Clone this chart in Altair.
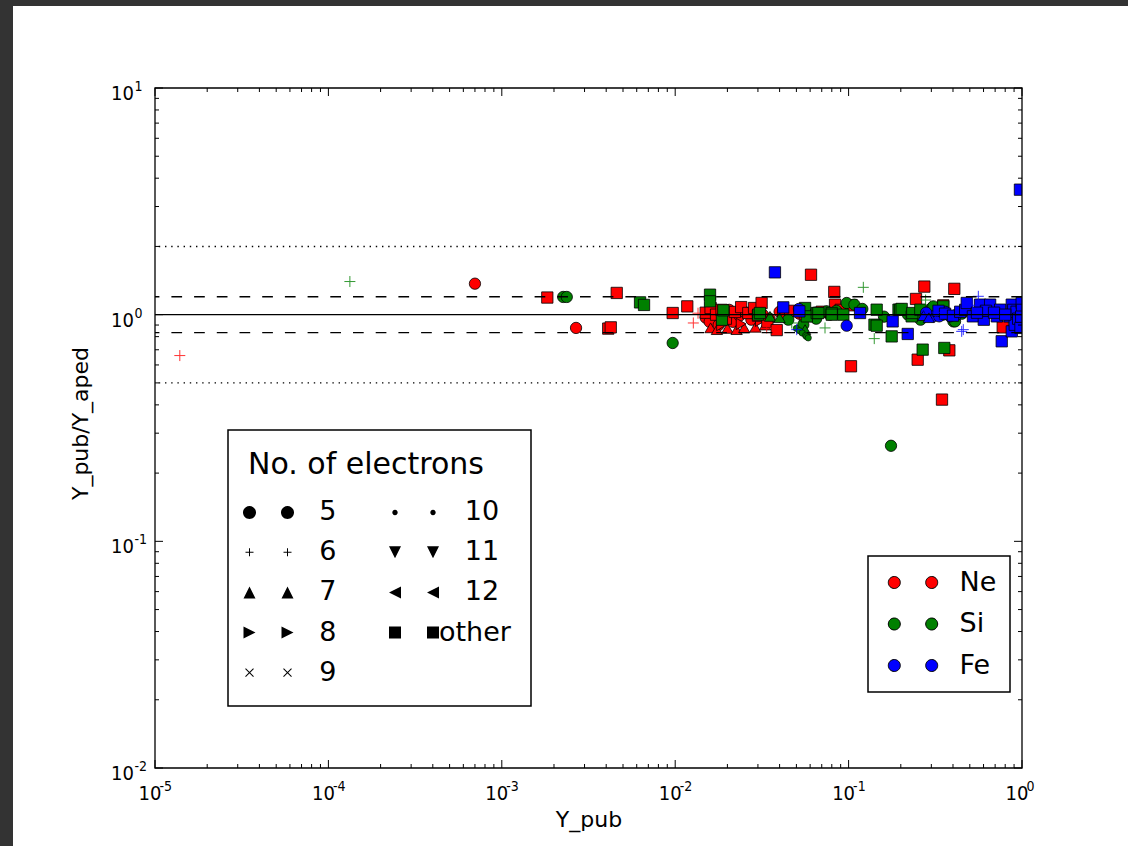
import altair as alt
import pandas as pd

W, H = 867, 680

# ---------------- data ----------------
ne_x = [1.39e-5, 1.272e-2, 1.354e-2, 3.37e-2,
        7.0e-4, 2.68e-3, 0.0150, 0.0158, 0.0168, 0.0178, 0.0190, 0.0205, 0.0215, 0.0235, 0.0250,
        0.0275, 0.0295, 0.0320, 0.0350, 0.0400, 0.0440, 0.0520, 0.0640, 0.0780,
        0.0160, 0.0174, 0.0200, 0.0226, 0.0250, 0.0290, 0.0330,
        0.0185, 0.0240, 0.0310,
        1.83e-3, 4.11e-3, 4.25e-3, 4.60e-3, 9.67e-3, 1.174e-2, 0.0150, 0.0160, 0.0172, 0.0185,
        0.0196, 0.0221, 0.0240, 0.0264, 0.0285, 0.0300, 0.0315, 0.0340, 0.0385, 0.0420, 0.0460,
        0.0560, 0.0607, 0.0700, 0.0827, 0.0835, 0.0900, 0.104, 0.1032, 0.2447, 0.2503, 0.2733,
        0.3456, 0.3516, 0.381, 0.407, 0.774]
ne_y = [0.66, 0.919, 1.015, 0.874,
        1.37, 0.874, 0.97, 0.93, 1.02, 0.90, 0.97, 1.05, 0.93, 0.99, 1.03,
        0.95, 1.05, 1.00, 0.96, 1.03, 0.98, 1.01, 1.02, 1.00,
        0.875, 0.859, 0.87, 0.859, 0.875, 0.88, 0.90,
        0.90, 0.91, 0.94,
        1.19, 0.868, 0.879, 1.247, 1.017, 1.088, 1.02, 1.07, 1.00, 1.05,
        0.96, 1.028, 1.08, 1.017, 1.07, 0.99, 1.126, 0.93, 0.855, 1.00, 1.04,
        0.99, 1.50, 1.03, 1.26, 1.107, 1.05, 1.10, 0.592, 1.173, 0.633, 1.33,
        0.422, 1.099, 0.696, 1.30, 0.879]
ne_n = (["6"] * 4 + ["5"] * 20 + ["7"] * 7 + ["8"] * 3 + ["other"] * 37)

si_x = [1.33e-4, 0.047, 0.0731, 0.1216, 0.1406, 0.278,
        2.26e-3, 2.37e-3, 9.67e-3, 0.0449, 0.0548, 0.0599, 0.0748, 0.0975, 0.108, 0.1756,
        0.3014, 0.308, 0.402, 0.411, 0.065, 0.085, 0.12, 0.16, 0.22, 0.26, 0.35, 0.45,
        0.0352, 0.0561, 0.0400,
        0.050, 0.052, 0.054, 0.0565, 0.0573, 0.0585,
        6.27e-3, 6.61e-3, 0.01588, 0.01588, 0.0186, 0.01894, 0.0301, 0.0308, 0.0561, 0.0574,
        0.0655, 0.0669, 0.0799, 0.0799, 0.0932, 0.1452, 0.141, 0.1452, 0.194, 0.198, 0.2023,
        0.2312, 0.233, 0.2592, 0.3516, 0.1772, 0.2674, 0.3565, 0.708]
si_y = [1.40, 0.919, 0.874, 1.32, 0.784, 1.16,
        1.197, 1.197, 0.750, 0.95, 0.903, 0.983, 1.034, 1.126, 1.107, 0.264,
        1.07, 1.088, 0.934, 0.934, 0.96, 1.04, 1.06, 0.98, 1.00, 0.95, 1.00, 1.01,
        0.983, 0.859, 0.97,
        0.87, 0.85, 0.83, 0.81, 0.80, 0.79,
        1.133, 1.104, 1.225, 1.145, 0.95, 1.045, 1.00, 1.017, 1.07, 0.983,
        1.017, 1.017, 1.017, 1.00, 1.00, 1.052, 0.903, 0.894, 1.052, 1.052, 1.06,
        0.983, 1.017, 1.052, 1.088, 0.802, 0.701, 0.713, 0.802]
si_n = (["6"] * 6 + ["5"] * 22 + ["7"] * 3 + ["10"] * 6 + ["other"] * 28)

fe_x = [0.0502, 0.449, 0.4586, 0.56, 0.52,
        0.0517, 0.0975, 0.308, 0.333, 0.385, 0.419, 0.28, 0.36,
        0.27, 0.29,
        0.28, 0.32,
        0.0376, 0.0420, 0.0520, 0.1164, 0.1795, 0.2193, 0.33, 0.36, 0.40, 0.44, 0.47, 0.480,
        0.521, 0.573, 0.602, 0.655, 0.716, 0.748, 0.764, 0.85, 0.873, 0.873, 0.89, 0.908,
        0.93, 0.95, 0.973, 0.98, 0.996, 1.0, 0.99, 0.62, 0.69, 0.8, 0.55]
fe_y = [0.859, 0.844, 0.859, 1.205, 1.10,
        1.06, 0.894, 0.983, 0.983, 0.983, 1.00, 1.02, 1.03,
        0.99, 0.97,
        1.00, 0.99,
        1.537, 1.077, 1.034, 1.017, 0.934, 0.822, 1.04, 1.01, 0.99, 1.03, 1.05, 1.126,
        0.983, 1.107, 0.95, 1.107, 0.983, 1.052, 0.763, 0.983, 1.107, 0.844, 1.05, 0.903,
        1.03, 0.96, 3.56, 0.874, 1.126, 1.05, 0.98, 1.04, 1.02, 1.00, 1.02]
fe_n = (["6"] * 5 + ["5"] * 8 + ["7"] * 2 + ["9"] * 2 + ["other"] * 35)

elements = ["Ne", "Si", "Fe"]
element_colors = ["#ff0000", "#008000", "#0000ff"]

x_ticks = [1e-5, 1e-4, 1e-3, 1e-2, 1e-1, 1.0]
x_tick_exps = ["-5", "-4", "-3", "-2", "-1", "0"]
y_ticks = [0.01, 0.1, 1.0, 10.0]
y_tick_exps = ["-2", "-1", "0", "1"]
x_minor = [k * 10.0 ** e for e in range(-5, 0) for k in range(2, 10)]
y_minor = [k * 10.0 ** e for e in range(-2, 1) for k in range(2, 10)]

ref_solid = [1.0]
ref_dashed = [1.2, 1 / 1.2]
ref_dotted = [2.0, 0.5]

legend_order = ["5", "6", "7", "8", "9", "10", "11", "12", "other"]

# ---------------- tables ----------------
rows = []
for el, xs, ys, ns in (("Ne", ne_x, ne_y, ne_n), ("Si", si_x, si_y, si_n), ("Fe", fe_x, fe_y, fe_n)):
    for a, b, c in zip(xs, ys, ns):
        rows.append({"x": a, "y": b, "n": c, "el": el})
df = pd.DataFrame(rows)

xscale = alt.Scale(type="log", domain=[1e-5, 1.0])
yscale = alt.Scale(type="log", domain=[0.01, 10.0])

FONT = "DejaVu Sans"
TICK_FONT = "Liberation Sans Narrow, DejaVu Sans Condensed, DejaVu Sans"

x_axis = alt.Axis(values=x_ticks, labels=False, ticks=False, domain=False, grid=False,
                  title="Y_pub", titleFont=FONT,
                  titleFontSize=22, titleFontWeight="normal", titleColor="black",
                  titleY=58, titleBaseline="alphabetic")
y_axis = alt.Axis(values=y_ticks, labels=False, ticks=False, domain=False, grid=False,
                  title="Y_pub/Y_aped", titleFont=FONT,
                  titleFontSize=22, titleFontWeight="normal", titleColor="black",
                  titleX=-75, titleY=335, titleBaseline="middle", titleAngle=-90)


def X(field):
    return alt.X(field, scale=xscale, axis=x_axis)


def Y(field):
    return alt.Y(field, scale=yscale, axis=y_axis)


one = pd.DataFrame({"k": [0]})

# dark frame of the screenshot (top band and left band)
band_top = alt.Chart(one).mark_rect(color="#333333").encode(
    x=alt.value(-155), x2=alt.value(973), y=alt.value(-88), y2=alt.value(-82))
band_left = alt.Chart(one).mark_rect(color="#333333").encode(
    x=alt.value(-155), x2=alt.value(-142), y=alt.value(-88), y2=alt.value(758))

fill_scale = alt.Scale(domain=elements, range=element_colors)

filled_domain = ["5", "7", "8", "11", "12", "other"]
filled_shapes = ["circle", "triangle-up", "triangle-right", "triangle-down", "triangle-left", "square"]
pts = alt.Chart(df).transform_filter(
    alt.FieldOneOfPredicate(field="n", oneOf=filled_domain)
).mark_point(filled=True, size=128, stroke="black", strokeWidth=0.8, opacity=1, clip=True).encode(
    x=X("x:Q"), y=Y("y:Q"),
    fill=alt.Fill("el:N", scale=fill_scale, legend=None),
    shape=alt.Shape("n:N", scale=alt.Scale(domain=filled_domain, range=filled_shapes), legend=None),
)

dots = alt.Chart(df).transform_filter(alt.datum.n == "10").mark_point(
    filled=True, size=40, shape="circle", stroke="black", strokeWidth=0.6, opacity=1, clip=True
).encode(
    x=X("x:Q"), y=Y("y:Q"),
    fill=alt.Fill("el:N", scale=fill_scale, legend=None),
)

line_domain = ["6", "9"]
line_shapes = ["M-1,0L1,0M0,-1L0,1", "M-0.75,-0.75L0.75,0.75M-0.75,0.75L0.75,-0.75"]
lines_pts = alt.Chart(df).transform_filter(
    alt.FieldOneOfPredicate(field="n", oneOf=line_domain)
).mark_point(filled=False, size=121, strokeWidth=1, opacity=0.8, clip=True).encode(
    x=X("x:Q"), y=Y("y:Q"),
    stroke=alt.Stroke("el:N", scale=fill_scale, legend=None),
    shape=alt.Shape("n:N", scale=alt.Scale(domain=line_domain, range=line_shapes), legend=None),
)


def hlines(vals, dash, width):
    kw = {"color": "black", "strokeWidth": width}
    if dash:
        kw["strokeDash"] = dash
    return alt.Chart(pd.DataFrame({"y": vals})).mark_rule(**kw).encode(y=Y("y:Q"))


solid = hlines(ref_solid, None, 1.3)
dashed = hlines(ref_dashed, [10.7, 12], 1.4)
dotted = hlines(ref_dotted, [1.4, 4.8], 1.4)


def xticks(vals, y0, y1):
    return alt.Chart(pd.DataFrame({"x": vals})).mark_rule(color="black", strokeWidth=1).encode(
        x=X("x:Q"), y=alt.value(y0), y2=alt.value(y1))


def yticks(vals, x0, x1):
    return alt.Chart(pd.DataFrame({"y": vals})).mark_rule(color="black", strokeWidth=1).encode(
        y=Y("y:Q"), x=alt.value(x0), x2=alt.value(x1))


ticks = [
    xticks(x_ticks, H, H - 8), xticks(x_ticks, 0, 8),
    xticks(x_minor, H, H - 4), xticks(x_minor, 0, 4),
    yticks(y_ticks, 0, 8), yticks(y_ticks, W, W - 8),
    yticks(y_minor, 0, 4), yticks(y_minor, W, W - 4),
]

# tick labels "10" with raised exponents (matplotlib mathtext look)
xlab_df = pd.DataFrame({"x": x_ticks, "e": x_tick_exps})
ylab_df = pd.DataFrame({"y": y_ticks, "e": y_tick_exps})
x_base = alt.Chart(xlab_df).mark_text(
    text="10", font=TICK_FONT, fontSize=20, align="center", baseline="alphabetic", dx=-5, color="black"
).encode(x=X("x:Q"), y=alt.value(H + 32))
x_exp = alt.Chart(xlab_df).mark_text(
    font=TICK_FONT, fontSize=14, align="left", baseline="alphabetic", dx=4.5, color="black"
).encode(x=X("x:Q"), y=alt.value(H + 23), text="e:N")
y_base = alt.Chart(ylab_df).mark_text(
    text="10", font=TICK_FONT, fontSize=20, align="right", baseline="alphabetic", dy=12, color="black"
).encode(y=Y("y:Q"), x=alt.value(-21))
y_exp = alt.Chart(ylab_df).mark_text(
    font=TICK_FONT, fontSize=14, align="left", baseline="alphabetic", dy=3, color="black"
).encode(y=Y("y:Q"), x=alt.value(-20.5), text="e:N")

frame = alt.Chart(one).mark_rect(fillOpacity=0, stroke="black", strokeWidth=1.3).encode(
    x=alt.value(0), x2=alt.value(W), y=alt.value(0), y2=alt.value(H))

# ---------------- legends ----------------
def circ2(r, d):
    return (f"M{-d + r},0A{r},{r} 0 1,0 {-d - r},0A{r},{r} 0 1,0 {-d + r},0Z"
            f"M{d + r},0A{r},{r} 0 1,0 {d - r},0A{r},{r} 0 1,0 {d + r},0Z")


def plus2(a, d, t=0.5):
    out = ""
    for c in (-d, d):
        out += (f"M{c - a},{-t}H{c + a}V{t}H{c - a}Z"
                f"M{c - t},{-a}H{c + t}V{a}H{c - t}Z")
    return out


def cross2(a, d, t=0.36):
    out = ""
    for c in (-d, d):
        out += (f"M{c - a - t},{-a + t}L{c - a + t},{-a - t}L{c + a + t},{a - t}L{c + a - t},{a + t}Z"
                f"M{c - a + t},{a + t}L{c - a - t},{a - t}L{c + a - t},{-a - t}L{c + a + t},{-a + t}Z")
    return out


D = 19
legend_paths = {
    "5": circ2(6.5, D),
    "6": plus2(4, D),
    "7": f"M{-D},-6L{-D+6},6L{-D-6},6ZM{D},-6L{D+6},6L{D-6},6Z",
    "8": f"M{-D+6},0L{-D-6},-6L{-D-6},6ZM{D+6},0L{D-6},-6L{D-6},6Z",
    "9": cross2(4, D),
    "10": circ2(2.7, D),
    "11": f"M{-D},6L{-D+6},-6L{-D-6},-6ZM{D},6L{D+6},-6L{D-6},-6Z",
    "12": f"M{-D-6},0L{-D+6},-6L{-D+6},6ZM{D-6},0L{D+6},-6L{D+6},6Z",
    "other": f"M{-D-6},-6H{-D+6}V6H{-D-6}ZM{D-6},-6H{D+6}V6H{D-6}Z",
}

LEG_FS = 27
pad_expr = "datum.label == 'other' ? 'other' : '\u200b\u00a0\u00a0\u00a0' + datum.label"

shape_leg = alt.Chart(pd.DataFrame({"lab": legend_order})).mark_point(
    filled=True, color="black", stroke="black", strokeWidth=1, opacity=0, size=4
).encode(
    shape=alt.Shape("lab:N", scale=alt.Scale(domain=legend_order, range=[legend_paths[k] for k in legend_order]),
                    legend=alt.Legend(title="No. of electrons", orient="none", legendX=73, legendY=430 - 88,
                                      columns=2, columnPadding=51.5, rowPadding=12.1, padding=20,
                                      titleFont=FONT, titleFontSize=30, titleFontWeight="normal",
                                      titleColor="black", titlePadding=18.7, titleLimit=600,
                                      labelFont=FONT, labelFontSize=LEG_FS, labelColor="black",
                                      labelExpr=pad_expr, labelLimit=400,
                                      symbolSize=4, symbolStrokeWidth=0, symbolFillColor="black",
                                      symbolOpacity=1, symbolOffset=7,
                                      labelOffset=11.5, strokeColor="black", fillColor="white"))
)

dc = circ2(6, 18.7)
color_leg = alt.Chart(pd.DataFrame({"el": elements})).mark_point(
    filled=True, opacity=0, size=4, shape=dc, stroke="black"
).encode(
    fill=alt.Fill("el:N", scale=alt.Scale(domain=elements, range=element_colors),
                  legend=alt.Legend(title=None, orient="none", legendX=713, legendY=468,
                                    symbolType=dc, symbolSize=4, symbolStrokeWidth=1,
                                    symbolStrokeColor="black", symbolOpacity=1, symbolOffset=18.5,
                                    labelFont=FONT, labelFontSize=LEG_FS, labelColor="black",
                                    labelOffset=33, rowPadding=13.5, padding=13,
                                    strokeColor="black", fillColor="white"))
)

chart = alt.layer(
    band_top, band_left, pts, dots, lines_pts, solid, dashed, dotted, *ticks,
    x_base, x_exp, y_base, y_exp, frame, shape_leg, color_leg
).resolve_scale(
    shape="independent", fill="independent", stroke="independent"
).properties(
    width=W, height=H,
    padding={"left": 155, "top": 88, "right": 106, "bottom": 78},
    autosize=alt.AutoSizeParams(type="none"),
    background="white",
).configure_view(stroke=None).configure_legend(strokeWidth=1.5)

chart.save("out.html", embed_options={"renderer": "svg", "actions": False})
